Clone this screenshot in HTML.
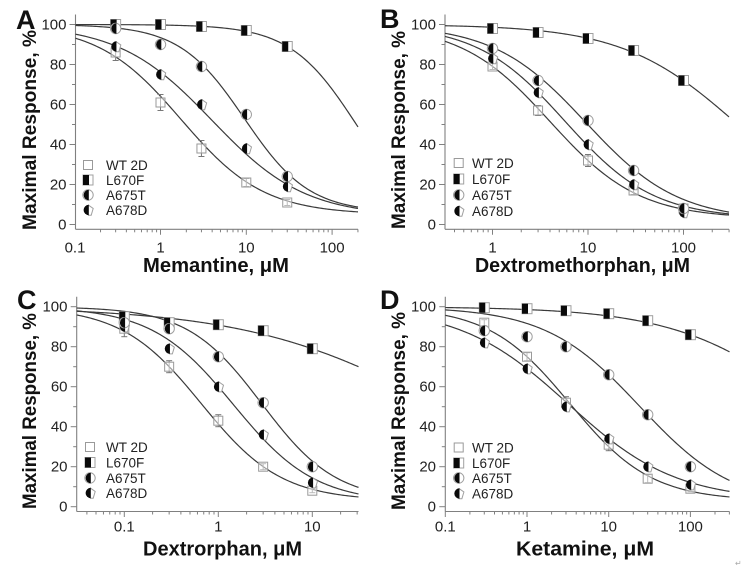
<!DOCTYPE html>
<html>
<head>
<meta charset="utf-8">
<style>
  html,body{margin:0;padding:0;background:#fff;}
  svg{display:block;}
  .tl{font-family:"Liberation Sans",Arial,sans-serif;font-size:15px;fill:#222;}
  .lg{font-family:"Liberation Sans",Arial,sans-serif;font-size:13.5px;fill:#222;}
  .ti{font-family:"Liberation Sans",Arial,sans-serif;font-size:20px;font-weight:bold;fill:#111;}
  .yt{font-family:"Liberation Sans",Arial,sans-serif;font-size:19px;font-weight:bold;fill:#111;}
  .pl{font-family:"Liberation Sans",Arial,sans-serif;font-size:27px;font-weight:bold;fill:#111;}
</style>
</head>
<body>
<svg id="s" width="744" height="569" viewBox="0 0 744 569" xmlns="http://www.w3.org/2000/svg">
<rect width="744" height="569" fill="#fff"/>
<g id="plot"></g>

<text class="pl" x="16" y="29">A</text>
<text class="pl" x="380" y="28">B</text>
<text class="pl" x="17" y="309">C</text>
<text class="pl" x="380" y="309">D</text>

<text class="yt" transform="translate(36,130) rotate(-90)" text-anchor="middle" textLength="200" lengthAdjust="spacingAndGlyphs">Maximal Response, %</text>
<text class="yt" transform="translate(405,130) rotate(-90)" text-anchor="middle" textLength="198" lengthAdjust="spacingAndGlyphs">Maximal Response, %</text>
<text class="yt" transform="translate(36,411) rotate(-90)" text-anchor="middle" textLength="196" lengthAdjust="spacingAndGlyphs">Maximal Response, %</text>
<text class="yt" transform="translate(405,411) rotate(-90)" text-anchor="middle" textLength="198" lengthAdjust="spacingAndGlyphs">Maximal Response, %</text>

<text class="ti" x="216" y="272" text-anchor="middle" textLength="146" lengthAdjust="spacingAndGlyphs">Memantine, μM</text>
<text class="ti" x="582.5" y="272" text-anchor="middle" textLength="215" lengthAdjust="spacingAndGlyphs">Dextromethorphan, μM</text>
<text class="ti" x="222.5" y="555.5" text-anchor="middle" textLength="159" lengthAdjust="spacingAndGlyphs">Dextrorphan, μM</text>
<text class="ti" x="585" y="555.5" text-anchor="middle" textLength="138" lengthAdjust="spacingAndGlyphs">Ketamine, μM</text>

<g class="tl" text-anchor="end">
  <text x="66.5" y="229.5">0</text><text x="66.5" y="189.5">20</text><text x="66.5" y="149.5">40</text>
  <text x="66.5" y="109.5">60</text><text x="66.5" y="69.5">80</text><text x="66.5" y="29.5">100</text>
</g>
<g class="tl" text-anchor="end">
  <text x="436" y="229.5">0</text><text x="436" y="189.5">20</text><text x="436" y="149.5">40</text>
  <text x="436" y="109.5">60</text><text x="436" y="69.5">80</text><text x="436" y="29.5">100</text>
</g>
<g class="tl" text-anchor="end">
  <text x="67.5" y="511.7">0</text><text x="67.5" y="471.7">20</text><text x="67.5" y="431.7">40</text>
  <text x="67.5" y="391.7">60</text><text x="67.5" y="351.7">80</text><text x="67.5" y="311.7">100</text>
</g>
<g class="tl" text-anchor="end">
  <text x="436" y="511.7">0</text><text x="436" y="471.7">20</text><text x="436" y="431.7">40</text>
  <text x="436" y="391.7">60</text><text x="436" y="351.7">80</text><text x="436" y="311.7">100</text>
</g>

<g class="tl" text-anchor="middle">
  <text x="75" y="252.5">0.1</text><text x="160.5" y="252.5">1</text><text x="246.3" y="252.5">10</text><text x="332.1" y="252.5">100</text>
  <text x="492.5" y="252.5">1</text><text x="588" y="252.5">10</text><text x="683.5" y="252.5">100</text>
  <text x="124.3" y="531.5">0.1</text><text x="218.3" y="531.5">1</text><text x="312.3" y="531.5">10</text>
  <text x="445.3" y="531.5">0.1</text><text x="527" y="531.5">1</text><text x="608.7" y="531.5">10</text><text x="690.4" y="531.5">100</text>
</g>

<g class="lg">
  <text x="106" y="170">WT 2D</text><text x="106" y="185">L670F</text><text x="106" y="200">A675T</text><text x="106" y="215">A678D</text>
  <text x="472" y="168">WT 2D</text><text x="472" y="184">L670F</text><text x="472" y="200">A675T</text><text x="472" y="216">A678D</text>
  <text x="106" y="452">WT 2D</text><text x="106" y="467.5">L670F</text><text x="106" y="483">A675T</text><text x="106" y="498">A678D</text>
  <text x="472" y="452.5">WT 2D</text><text x="472" y="468">L670F</text><text x="472" y="483">A675T</text><text x="472" y="498.5">A678D</text>
</g>

<text x="735" y="566" style="font-family:'DejaVu Sans',sans-serif;font-size:8px;fill:#aaa;">↵</text>
</svg>

<script>
(function(){
  var AX="#808080", CURVE="#3a3a3a";
  var panels=[
    {ax0:75.5, ax1:358, y100:24.5, y0:224.5, xa:229.3, xc:160.5, dec:85.8,
     curves:[[100,5,1.74,0.9],[100,0,192,1.128],[100,6,9.5,1.15],[100,4,4,0.8]],
     wt:[[0.3,86,4],[1,61,4],[3,38,4],[10,21,2],[30,11,1.5]],
     l670:[[0.3,100],[1,100],[3,99],[10,97],[30,89]],
     a675:[[0.3,98],[1,90],[3,79],[10,55],[30,24]],
     a678:[[0.3,89],[1,75],[3,60],[10,38],[30,19]],
     leg:{x:88, ys:[165,180,195,210]}},
    {ax0:445, ax1:729, y100:24.5, y0:224.5, xa:229.3, xc:492.5, dec:95.5,
     curves:[[100,3,4,0.93],[100,0,370,0.72],[100,2,9.5,0.9],[100,3,5.78,0.94]],
     wt:[[1,79,1.5],[3,57,2.5],[10,32,3],[30,17,2],[100,8,1]],
     l670:[[1,98],[3,96],[10,93],[30,87],[100,72]],
     a675:[[1,88],[3,72],[10,52],[30,27],[100,8]],
     a678:[[1,83],[3,66],[10,40],[30,20],[100,6]],
     leg:{x:458.7, ys:[163,179,195,211]}},
    {ax0:76.7, ax1:358.5, y100:306.7, y0:506.7, xa:511.5, xc:218.3, dec:94,
     curves:[[100,3,0.66,1.02],[100,0,233,0.42],[100,3,2.9,1.1],[100,2,1.45,1.0]],
     wt:[[0.1,89,4],[0.3,70,3],[1,43,3],[3,20,1.5],[10,8,1]],
     l670:[[0.1,95],[0.3,92],[1,91],[3,88],[10,79]],
     a675:[[0.1,92],[0.3,89],[1,75],[3,52],[10,20]],
     a678:[[0.1,90],[0.3,79],[1,60],[3,36],[10,12]],
     leg:{x:90, ys:[447,462.5,478,493]}},
    {ax0:445.3, ax1:729.5, y100:306.7, y0:506.7, xa:511.5, xc:527, dec:81.7,
     curves:[[100,3,3.36,0.873],[100,0,3150,0.525],[100,0,24.2,0.75],[100,3,3.17,0.656]],
     wt:[[0.3,92,1.5],[1,75,2],[3,52,3],[10,31,3],[30,14,2],[100,9,1.5]],
     l670:[[0.3,99.5],[1,99],[3,98],[10,96.5],[30,93],[100,86]],
     a675:[[0.3,88],[1,85],[3,80],[10,66],[30,46],[100,20]],
     a678:[[0.3,82],[1,69],[3,50],[10,34],[30,20],[100,11]],
     leg:{x:458.7, ys:[447.5,463,478,493.5]}}
  ];
  var out=[];
  function f(n){return n.toFixed(2);}
  function line(x1,y1,x2,y2,c,w){out.push('<line x1="'+f(x1)+'" y1="'+f(y1)+'" x2="'+f(x2)+'" y2="'+f(y2)+'" stroke="'+c+'" stroke-width="'+(w||1)+'"/>');}
  function sqOpen(cx,cy){out.push('<rect x="'+f(cx-4.5)+'" y="'+f(cy-4.5)+'" width="9" height="9" fill="#fff" fill-opacity="0.5" stroke="#9a9a9a" stroke-width="1"/>');}
  function sqHalf(cx,cy){
    out.push('<rect x="'+f(cx-5)+'" y="'+f(cy-5)+'" width="10" height="10" fill="#fff" stroke="#a0a0a0" stroke-width="1"/>');
    out.push('<rect x="'+f(cx-5)+'" y="'+f(cy-5)+'" width="6" height="10" fill="#0a0a0a"/>');
  }
  function circHalf(cx,cy,pent){
    var r=5.2;
    if(pent){
      out.push('<path d="M'+f(cx)+' '+f(cy-r)+' L'+f(cx+r)+' '+f(cy-1.5)+' L'+f(cx+3.2)+' '+f(cy+r)+' L'+f(cx)+' '+f(cy+r)+'" fill="#fff" stroke="#a0a0a0" stroke-width="1"/>');
    } else {
      out.push('<circle cx="'+f(cx)+'" cy="'+f(cy)+'" r="'+r+'" fill="#fff" stroke="#a0a0a0" stroke-width="1"/>');
    }
    out.push('<path d="M'+f(cx+0.8)+' '+f(cy-r)+' A'+r+' '+r+' 0 0 0 '+f(cx+0.8)+' '+f(cy+r)+' Z" fill="#0a0a0a"/>');
  }
  panels.forEach(function(p){
    function X(v){return p.xc+p.dec*Math.log10(v);}
    function Y(v){return p.y0-(p.y0-p.y100)*v/100;}
    var xmin=Math.pow(10,(p.ax0-p.xc)/p.dec), xmax=Math.pow(10,(p.ax1-p.xc)/p.dec);
    line(p.ax0,p.y100-10,p.ax0,p.xa,AX,1.1);
    line(p.ax0,p.xa,p.ax1,p.xa,AX,1.1);
    for(var v=0;v<=100;v+=10){
      var y=Y(v); var L=(v%20===0)?6:3.5;
      line(p.ax0-L,y,p.ax0,y,AX,1);
    }
    var d0=Math.floor(Math.log10(xmin)), d1=Math.ceil(Math.log10(xmax));
    for(var d=d0; d<=d1; d++){
      for(var m=1;m<=9;m++){
        var val=m*Math.pow(10,d), px=X(val);
        if(px<p.ax0-0.6||px>p.ax1+0.6) continue;
        var L2=(m===1)?5.5:3;
        line(px,p.xa,px,p.xa+L2,AX,1);
      }
    }
    p.curves.forEach(function(c){
      var T=c[0],B=c[1],IC=c[2],n=c[3], pts=[];
      var lo=Math.log10(xmin), hi=Math.log10(xmax);
      for(var i=0;i<=200;i++){
        var lx=lo+(hi-lo)*i/200, x=Math.pow(10,lx);
        var yv=B+(T-B)/(1+Math.pow(x/IC,n));
        pts.push(f(X(x))+','+f(Y(yv)));
      }
      out.push('<polyline points="'+pts.join(' ')+'" fill="none" stroke="'+CURVE+'" stroke-width="1.2"/>');
    });
    p.wt.forEach(function(q){
      var cx=X(q[0]), e=q[2]||0;
      if(e){
        var y1=Y(q[1]-e), y2=Y(q[1]+e);
        line(cx,y1,cx,y2,"#777",1);
        line(cx-3,y1,cx+3,y1,"#777",1);
        line(cx-3,y2,cx+3,y2,"#777",1);
      }
      sqOpen(cx,Y(q[1]));
    });
    p.l670.forEach(function(q){sqHalf(X(q[0]),Y(q[1]));});
    p.a678.forEach(function(q){circHalf(X(q[0]),Y(q[1]),true);});
    p.a675.forEach(function(q){circHalf(X(q[0]),Y(q[1]),false);});
    var lx=p.leg.x, ys=p.leg.ys;
    sqOpen(lx,ys[0]); sqHalf(lx,ys[1]); circHalf(lx,ys[2],false); circHalf(lx,ys[3],true);
  });
  document.getElementById('plot').innerHTML=out.join('');
})();
</script>
</body>
</html>
